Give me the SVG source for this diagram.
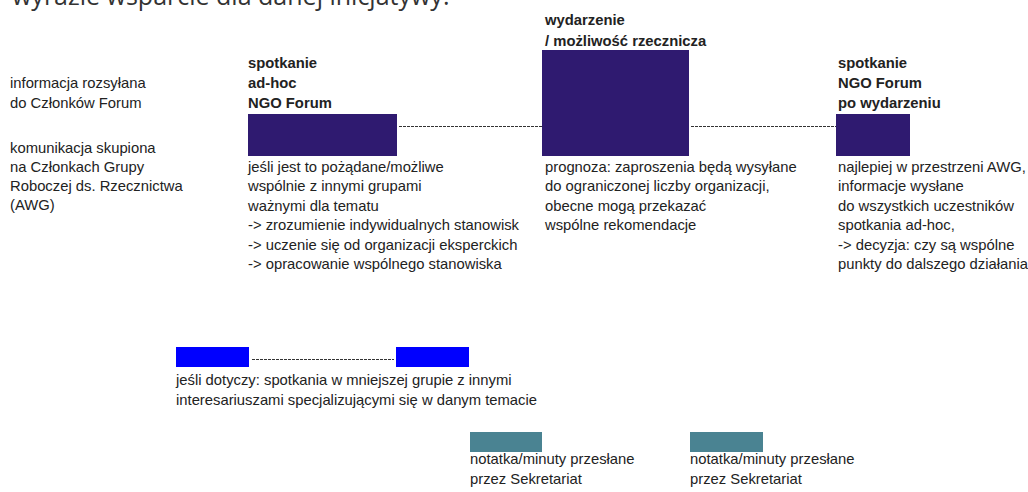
<svg xmlns="http://www.w3.org/2000/svg" width="1028" height="492" viewBox="0 0 1028 492">
<style>
text{font-family:"Liberation Sans",Arial,sans-serif;font-size:14.8px;fill:#222}
.b{font-weight:bold}
.top{font-family:"Open Sans","Noto Sans",sans-serif;font-size:25px;fill:#333}
.p{fill:#2f1a70}
.bl{fill:#0000ff}
.t{fill:#4a8392}
.d{stroke:#333;stroke-width:1;stroke-dasharray:3 1;fill:none}
</style>
<rect width="1028" height="492" fill="#fff"/>
<text class="top" x="12" y="5">wyrazie wsparcie dla danej inicjatywy.</text>
<g id="connectors">
<line class="d" x1="399" y1="126.5" x2="542" y2="126.5"/>
<line class="d" x1="691" y1="126.5" x2="837" y2="126.5"/>
<line class="d" x1="252" y1="359.5" x2="394" y2="359.5"/>
</g>
<g id="info">
<text x="10" y="88">informacja rozsyłana</text>
<text x="10" y="108">do Członków Forum</text>
<text x="10" y="153">komunikacja skupiona</text>
<text x="10" y="172">na Członkach Grupy</text>
<text x="10" y="191">Roboczej ds. Rzecznictwa</text>
<text x="10" y="210">(AWG)</text>
</g>
<g id="adhoc">
<text class="b" x="248" y="68">spotkanie</text>
<text class="b" x="248" y="88">ad-hoc</text>
<text class="b" x="248" y="108">NGO Forum</text>
<rect class="p" x="248" y="114" width="149" height="42"/>
<text x="248" y="172">jeśli jest to pożądane/możliwe</text>
<text x="248" y="191">wspólnie z innymi grupami</text>
<text x="248" y="211">ważnymi dla tematu</text>
<text x="248" y="230">-&gt; zrozumienie indywidualnych stanowisk</text>
<text x="248" y="250">-&gt; uczenie się od organizacji eksperckich</text>
<text x="248" y="269">-&gt; opracowanie wspólnego stanowiska</text>
</g>
<g id="event">
<text class="b" x="545" y="25">wydarzenie</text>
<text class="b" x="545" y="46">/ możliwość rzecznicza</text>
<rect class="p" x="542" y="50" width="147" height="106"/>
<text x="545" y="172">prognoza: zaproszenia będą wysyłane</text>
<text x="545" y="191">do ograniczonej liczby organizacji,</text>
<text x="545" y="211">obecne mogą przekazać</text>
<text x="545" y="230">wspólne rekomendacje</text>
</g>
<g id="after">
<text class="b" x="838" y="68">spotkanie</text>
<text class="b" x="838" y="88">NGO Forum</text>
<text class="b" x="838" y="108">po wydarzeniu</text>
<rect class="p" x="836" y="114" width="74" height="42"/>
<text x="838" y="172">najlepiej w przestrzeni AWG,</text>
<text x="838" y="191">informacje wysłane</text>
<text x="838" y="211">do wszystkich uczestników</text>
<text x="838" y="230">spotkania ad-hoc,</text>
<text x="838" y="250">-&gt; decyzja: czy są wspólne</text>
<text x="838" y="269">punkty do dalszego działania</text>
</g>
<g id="small-group">
<rect class="bl" x="176" y="347" width="73" height="20"/>
<rect class="bl" x="396" y="347" width="73" height="20"/>
<text x="176" y="385">jeśli dotyczy: spotkania w mniejszej grupie z innymi</text>
<text x="176" y="405">interesariuszami specjalizującymi się w danym temacie</text>
</g>
<g id="notes1">
<rect class="t" x="470" y="432" width="72" height="20"/>
<text x="470" y="464">notatka/minuty przesłane</text>
<text x="470" y="484">przez Sekretariat</text>
</g>
<g id="notes2">
<rect class="t" x="690" y="432" width="73" height="20"/>
<text x="690" y="464">notatka/minuty przesłane</text>
<text x="690" y="484">przez Sekretariat</text>
</g>
</svg>
